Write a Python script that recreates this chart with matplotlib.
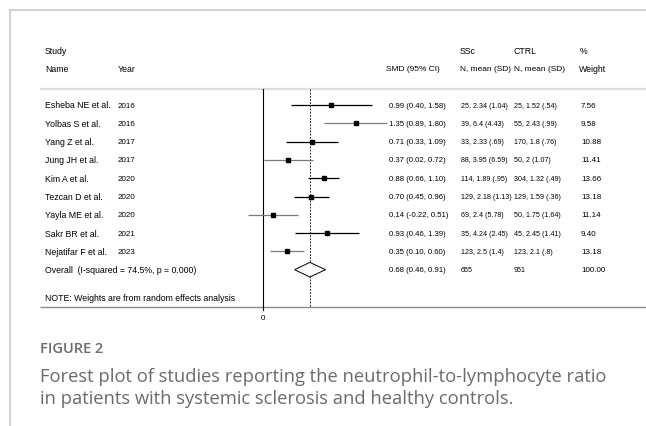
import matplotlib.pyplot as plt
from matplotlib.transforms import blended_transform_factory
from matplotlib.patches import Polygon
from matplotlib.lines import Line2D

# Study data
names = ["Esheba NE et al.", "Yolbas S et al.", "Yang Z et al.", "Jung JH et al.",
         "Kim A et al.", "Tezcan D et al.", "Yayla ME et al.", "Sakr BR et al.",
         "Nejatifar F et al."]
years = ["2016", "2016", "2017", "2017", "2020", "2020", "2020", "2021", "2023"]
smd = [0.99, 1.35, 0.71, 0.37, 0.88, 0.70, 0.14, 0.93, 0.35]
ci_low = [0.40, 0.89, 0.33, 0.02, 0.66, 0.45, -0.22, 0.46, 0.10]
ci_high = [1.58, 1.80, 1.09, 0.72, 1.10, 0.96, 0.51, 1.39, 0.60]
ssc = ["25, 2.34 (1.04)", "39, 6.4 (4.43)", "33, 2.33 (.69)", "88, 3.95 (6.59)",
       "114, 1.89 (.95)", "129, 2.18 (1.13)", "69, 2.4 (5.78)", "35, 4.24 (2.45)",
       "123, 2.5 (1.4)"]
ctrl = ["25, 1.52 (.54)", "55, 2.43 (.99)", "170, 1.8 (.76)", "50, 2 (1.07)",
        "304, 1.32 (.49)", "129, 1.59 (.36)", "50, 1.75 (1.64)", "45, 2.45 (1.41)",
        "123, 2.1 (.8)"]
weights = ["7.56", "9.58", "10.88", "11.41", "13.66", "13.18", "11.14", "9.40", "13.18"]

overall_smd = 0.68
overall_low = 0.46
overall_high = 0.91
overall_ssc = "655"
overall_ctrl = "951"
overall_weight = "100.00"
i_squared = "74.5%"
p_value = "0.000"

W, H = 646, 427
plt.rcParams['font.family'] = ['Liberation Sans', 'DejaVu Sans']
fig = plt.figure(figsize=(W / 100, H / 100), dpi=100)
ax = fig.add_axes([0, 0, 1, 1])
ax.set_xlim(-263 / 68.8, (W - 263) / 68.8)
row_h = 18.3
ax.set_ylim((H - 106) / row_h, -106 / row_h)
ax.axis('off')

fs = 6.3      # study names / headers
fs_hdr = 6.0  # right-hand column headers
fs_ci = 5.6   # SMD (95% CI) column
fs_n = 5.1    # N, mean (SD) columns (digits are narrow in the original)
fs_yr = 5.8
txt = blended_transform_factory(fig.transFigure, ax.transData)


def col(px):
    return px / W


# frame around the figure panel
fig.add_artist(Line2D([10 / W, 1], [1 - 11 / H, 1 - 11 / H], color='#c8c8c8', lw=1.2))
fig.add_artist(Line2D([10 / W, 10 / W], [0, 1 - 11 / H], color='#c8c8c8', lw=1.2))

# headers
ax.text(col(45), -3.0, "Study", transform=txt, fontsize=fs, va='center')
ax.text(col(45), -2.02, "Name", transform=txt, fontsize=fs, va='center')
ax.text(col(118), -2.02, "Year", transform=txt, fontsize=fs, va='center')
ax.text(col(386), -2.02, "SMD (95% CI)", transform=txt, fontsize=fs_hdr, va='center')
ax.text(col(460), -3.0, "SSc", transform=txt, fontsize=fs, va='center')
ax.text(col(460), -2.02, "N, mean (SD)", transform=txt, fontsize=fs_hdr, va='center')
ax.text(col(514), -3.0, "CTRL", transform=txt, fontsize=fs, va='center')
ax.text(col(514), -2.02, "N, mean (SD)", transform=txt, fontsize=fs_hdr, va='center')
ax.text(col(580), -3.0, "%", transform=txt, fontsize=fs, va='center')
ax.text(col(579), -2.02, "Weight", transform=txt, fontsize=fs, va='center')

# separator and bottom rules
ax.plot([col(40), 1], [-0.87, -0.87], transform=txt, color='#dddddd', lw=1.6,
        solid_capstyle='butt')
ax.plot([col(40), 1], [11.04, 11.04], transform=txt, color='#8a8a8a', lw=1.0,
        solid_capstyle='butt')

# zero line and overall effect line
ax.plot([0, 0], [-0.87, 11.2], color='black', lw=0.8)
ax.plot([overall_smd, overall_smd], [-0.87, 11.04], color='black', lw=0.6,
        linestyle=(0, (2.2, 1.6)))
ax.text(0, 11.6, "0", fontsize=fs_yr, ha='center', va='center')

gray_ci = [False, True, False, True, False, False, True, False, True]
for i in range(len(names)):
    c = '#7a7a7a' if gray_ci[i] else 'black'
    ax.plot([ci_low[i], ci_high[i]], [i, i], color=c, lw=0.9, solid_capstyle='butt')
    ax.plot(smd[i], i, marker='s', color='black', markersize=2.2)
    ax.text(col(45), i, names[i], transform=txt, fontsize=fs, va='center')
    ax.text(col(118), i, years[i], transform=txt, fontsize=fs_yr, va='center')
    ax.text(col(389), i, f"{smd[i]:.2f} ({ci_low[i]:.2f}, {ci_high[i]:.2f})",
            transform=txt, fontsize=fs_ci, va='center')
    ax.text(col(461), i, ssc[i], transform=txt, fontsize=fs_n, va='center')
    ax.text(col(514), i, ctrl[i], transform=txt, fontsize=fs_n, va='center')
    ax.text(col(581), i, weights[i], transform=txt, fontsize=fs_yr, va='center')

# pooled estimate
k = len(names)
diamond = Polygon([[overall_low, k], [overall_smd, k - 0.4], [overall_high, k],
                   [overall_smd, k + 0.4]], closed=True, facecolor='white',
                  edgecolor='black', lw=0.7, zorder=3)
ax.add_patch(diamond)
ax.text(col(45), k, f"Overall  (I-squared = {i_squared}, p = {p_value})",
        transform=txt, fontsize=fs, va='center')
ax.text(col(389), k, f"{overall_smd:.2f} ({overall_low:.2f}, {overall_high:.2f})",
        transform=txt, fontsize=fs_ci, va='center')
ax.text(col(461), k, overall_ssc, transform=txt, fontsize=fs_n, va='center')
ax.text(col(514), k, overall_ctrl, transform=txt, fontsize=fs_n, va='center')
ax.text(col(581), k, overall_weight, transform=txt, fontsize=fs_yr, va='center')
ax.text(col(45), 10.5, "NOTE: Weights are from random effects analysis",
        transform=txt, fontsize=fs, va='center')

# caption
cap_color = '#6b6b6b'
fig.text(40 / W, 1 - 349 / H, "FIGURE 2", fontsize=10.5, color=cap_color,
         family=['Open Sans', 'DejaVu Sans'], weight='semibold', va='center')
fig.text(40 / W, 1 - 377 / H,
         "Forest plot of studies reporting the neutrophil-to-lymphocyte ratio",
         fontsize=13.25, color=cap_color, family=['Open Sans', 'DejaVu Sans'], va='center')
fig.text(40 / W, 1 - 399 / H,
         "in patients with systemic sclerosis and healthy controls.",
         fontsize=13.25, color=cap_color, family=['Open Sans', 'DejaVu Sans'], va='center')

fig.savefig("out.png", dpi=100)
